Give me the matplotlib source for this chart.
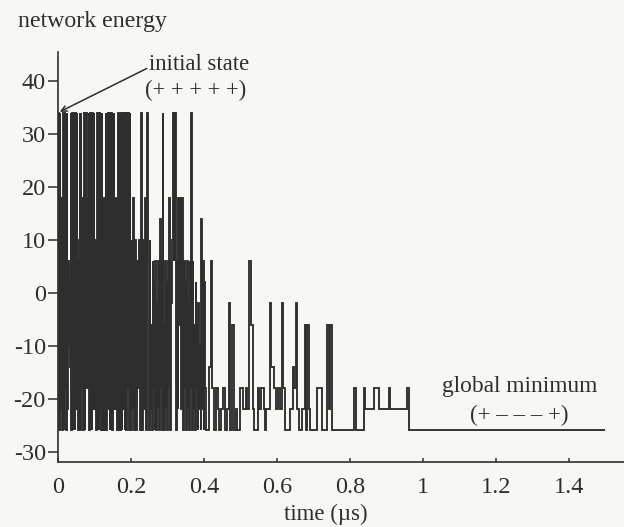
"""
Energy trace of a small Hopfield-type network while it anneals from the
initial state (+ + + + +) down to the global minimum (+ - - - +).
"""

import numpy as np
import matplotlib
matplotlib.use("Agg")
import matplotlib.pyplot as plt


# --------------------------------------------------------------------
# Data: energy levels visited and how long (ns) each one is held
# --------------------------------------------------------------------
# fast burst right after start, energy jumps over the whole range
burst_levels = [
    34, -26, 34, -22, 18, -26, 34, -26, 34, -18,
    34, -26, 34, -22, 6, -10, 2, -14, 34, -26,
    34, -26, 18, -22, 34, -26, 34, -22, 34, 10,
    -26, 6, 34, -26, 34, -18, 18, -26, 34, -26,
    34, -18, 34, -18, 18, -18, 34, -26, 34, -26,
    34, -26, 34, -22, 34, -22, 10, -26, 10, 34,
    -26, 34, -26, 34, -22, 34, -26, 34, -26, 18,
    -26, 18, -26, 34, -26, 34, -22, 34, -22, 34,
    -26, 34, -26, 34, -26, 34, -22, 34, -22, 18,
    -22, 18, -26, 34, -26, 34, -26, 34, -26, 34,
    -22, 34, -26, 34, -26, 34, -18, 34, -26, 34,
]
burst_hold_ns = [
    3, 1.5, 1.5, 1.5, 3, 3, 1.5, 1.5, 2, 1.5,
    1.5, 2, 1.5, 1.5, 2, 2, 2, 2, 1.5, 1.5,
    2, 1.5, 1.5, 1.5, 1.5, 1.5, 1.5, 2, 1.5, 2.5,
    2, 2, 1.5, 1.5, 1.5, 1.5, 3, 3, 1.5, 1.5,
    1.5, 2, 1.5, 2, 1.5, 2, 1.5, 1.5, 1.5, 1.5,
    2, 1.5, 1.5, 2, 1.5, 2, 2.5, 2, 2, 1.5,
    1.5, 1.5, 1.5, 1.5, 1.5, 1.5, 1.5, 1.5, 1.5, 2,
    2, 2, 2, 1.5, 1.5, 1.5, 2, 1.5, 2, 1.5,
    1.5, 1.5, 1.5, 1.5, 1.5, 1.5, 2, 1.5, 2, 2,
    2, 2, 2, 2, 2, 2, 2, 2, 2, 2,
    2, 2, 2, 2, 2, 2, 2, 2, 2, 2,
]

# cooling: the top states are left, spikes become rarer
cool_levels = [
    -26, 10, -22, 18, -26, 10, -26, 6, -18, 10,
    -26, 34, -2, -26, 10, -22, 18, -26, 34, 6,
    -26, 10, -22, -6, -26, 6, -18, 2, -26, 6,
    -26, -2, -22, 6, -26, 14, -18, 6, -26, 34,
    -6, -26, 6, -22, 2, -26, 6, -18, 18, -26,
    6, -2, 10, 34, 6, 34, 6, 34, -26, 6,
    -22, 18, -6, 18, -22, 18, -26, 6, -18, 2,
    -26, 6, -22, -2, -26, 6, -18, 34, -26, 6,
    -22, -6, -26, 2, -18, -6, -26, -2, -22, -10,
    -26, 14, -22, 6, -26, 2, -18,
]
cool_hold_ns = [
    3, 2.5, 2.5, 2.5, 2.5, 2.5, 2.5, 2.5, 2.5, 2.5,
    2.5, 2.5, 2.5, 2.5, 2.5, 2.5, 2.5, 2.5, 2.5, 2.5,
    2, 2, 2, 2, 2, 2, 2, 2, 2, 2,
    2, 2, 2, 2, 2, 2, 2, 2, 2, 2,
    2, 2, 2, 2, 2, 2, 2, 2, 2, 2,
    2, 2, 2, 2, 1.5, 2, 1.5, 2, 2, 2,
    2, 3, 2, 3, 2, 3, 2, 2, 2, 2,
    2, 2, 2, 2, 2, 2, 2, 2, 2, 2,
    2, 2, 2, 2, 2, 2, 2, 2, 2, 2,
    2, 2, 2, 2, 2, 2, 2,
]

# settling into the lowest states (last level runs to the end of the trace)
settle_levels = [
    -26, -14, 6, -18, -26, -18, -22, -26, -22, -18,
    -26, -22, -2, -26, -6, -26, -22, -26, -18, -22,
    -18, -22, 6, -6, -22, -26, -18, -22, -18, -22,
    -26, -22, -2, -14, -18, -22, -18, -22, -2, -18,
    -26, -22, -14, -18, -2, -22, -26, -22, -6, -26,
    -6, -22, -26, -18, -26, -6, -22, -6, -26, -18,
    -26, -18, -22, -18, -22, -18, -22, -18, -26,
]
settle_hold_ns = [
    8, 6, 3, 5, 5, 6, 4, 5, 6, 4,
    6, 5, 3, 6, 6, 4, 4, 8, 8, 8,
    4, 6, 3, 6, 4, 10, 4, 6, 6, 4,
    2, 10, 3, 9, 6, 4, 6, 7, 3, 4,
    14, 8, 3, 6, 3, 6, 6, 8, 4, 3,
    4, 4, 20, 12, 16, 4, 3, 5, 62, 3,
    24, 3, 24, 14, 26, 3, 48, 4,
]
trace_end_us = 1.5

y_ticks = [-30, -20, -10, 0, 10, 20, 30, 40]
x_ticks = [0, 0.2, 0.4, 0.6, 0.8, 1.0, 1.2, 1.4]
x_tick_labels = ["0", "0.2", "0.4", "0.6", "0.8", "1", "1.2", "1.4"]

INK = "#2e2e2e"
PAPER = "#f7f7f4"


def main():
    plt.rcParams["font.family"] = ["Liberation Serif", "DejaVu Serif"]
    plt.rcParams["axes.unicode_minus"] = False
    plt.rcParams["path.simplify"] = False  # keep every switch of the trace

    levels = burst_levels + cool_levels + settle_levels
    holds = burst_hold_ns + cool_hold_ns + settle_hold_ns
    edges = np.concatenate([[0.0], np.cumsum(holds) / 1000.0, [trace_end_us]])

    fig = plt.figure(figsize=(6.24, 5.27), dpi=100, facecolor=PAPER)
    ax = fig.add_axes([0.0934, 0.1239, 0.9066, 0.7774])
    ax.set_facecolor(PAPER)

    ax.stairs(levels, edges, baseline=None, color=INK, lw=1.35)

    ax.set_xlim(0, 1.552)
    ax.set_ylim(-31.9, 45.5)

    for side in ("top", "right"):
        ax.spines[side].set_visible(False)
    for side in ("left", "bottom"):
        ax.spines[side].set_color(INK)
        ax.spines[side].set_linewidth(1.2)

    ax.set_yticks(y_ticks)
    ax.set_xticks(x_ticks)
    ax.set_xticklabels(x_tick_labels)
    ax.tick_params(axis="y", direction="out", length=7, width=1.1,
                   color=INK, labelcolor=INK, labelsize=17.5, pad=2)
    ax.tick_params(axis="x", direction="in", length=3, width=1.1,
                   color=INK, labelcolor=INK, labelsize=17.5, pad=11)

    ax.set_xlabel("time (\u00b5s)", fontsize=16.5, color=INK)
    ax.xaxis.set_label_coords(0.473, -0.103)
    fig.text(18 / 624, 1 - 27 / 527, "network energy", fontsize=17.2,
             color=INK, ha="left", va="baseline")

    # annotations
    ax.annotate("", xy=(0.004, 34.2), xytext=(0.243, 42.4),
                arrowprops=dict(arrowstyle="->", color=INK, lw=1.1,
                                shrinkA=0, shrinkB=0))
    ax.text(0.387, 43.1, "initial state", fontsize=16.3, color=INK,
            ha="center", va="center")
    ax.text(0.376, 38.3, "(+ + + + +)", fontsize=16.3, color=INK,
            ha="center", va="center")
    ax.text(1.265, -17.6, "global minimum", fontsize=16.8, color=INK,
            ha="center", va="center")
    ax.text(1.264, -23.1, "(+ \u2013 \u2013 \u2013 +)", fontsize=16.5,
            color=INK, ha="center", va="center")

    fig.savefig("out.png", dpi=100, facecolor=PAPER)
    plt.close(fig)


if __name__ == "__main__":
    main()
